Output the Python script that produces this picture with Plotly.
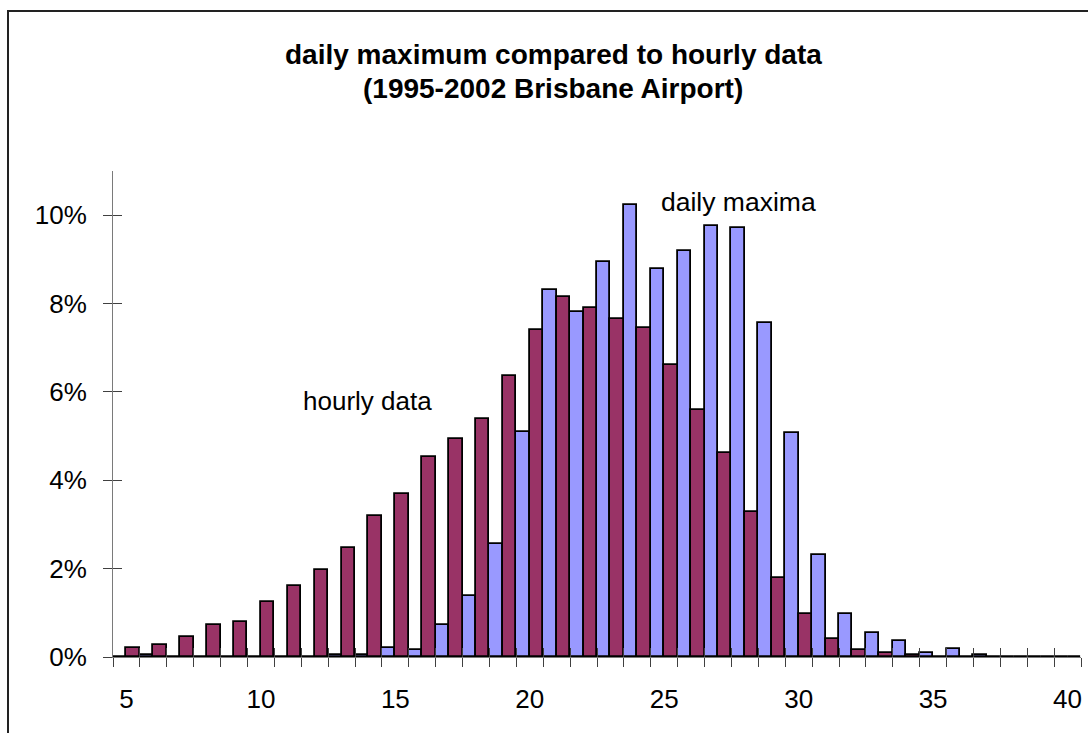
import plotly.graph_objects as go

temps = list(range(5, 41))

daily_maxima = [0, 0.04, 0, 0, 0, 0, 0, 0, 0.04, 0.04,
                0.20, 0.16, 0.73, 1.37, 2.55, 5.10, 8.30, 7.81, 8.94, 10.24,
                8.79, 9.19, 9.75, 9.71, 7.56, 5.07, 2.31, 0.97, 0.54, 0.36,
                0.08, 0.17, 0.04, 0, 0, 0]

hourly_data = [0.20, 0.27, 0.45, 0.73, 0.80, 1.24, 1.61, 1.98, 2.47, 3.19,
               3.69, 4.53, 4.93, 5.38, 6.35, 7.41, 8.14, 7.90, 7.65, 7.44,
               6.60, 5.60, 4.62, 3.29, 1.79, 0.97, 0.41, 0.16, 0.08, 0.04,
               0, 0, 0, 0, 0, 0]

x_labels = [5, 10, 15, 20, 25, 30, 35, 40]
y_ticks = [0, 2, 4, 6, 8, 10]
y_ticktext = [f"{v}%" for v in y_ticks]
boundaries = [t - 0.5 for t in temps] + [temps[-1] + 0.5]

FONT = "Liberation Sans, Arial, sans-serif"
AXIS_COLOR = "#7a7a7a"
TICK_COLOR = "#404040"

fig = go.Figure()
fig.add_trace(go.Bar(x=temps, y=daily_maxima, name="daily maxima",
                     marker=dict(color="#9999FF", line=dict(color="#000000", width=1.8))))
fig.add_trace(go.Bar(x=temps, y=hourly_data, name="hourly data",
                     marker=dict(color="#993366", line=dict(color="#000000", width=1.8))))
# dummy trace for overlay axes (inside half of crossing ticks)
fig.add_trace(go.Scatter(x=[None], y=[None], xaxis="x2", yaxis="y2",
                         showlegend=False, hoverinfo="skip"))

xr = [4.5, 40.5]
yr = [0, 11]

fig.update_layout(
    width=1088, height=733,
    margin=dict(l=113, r=7, t=171, b=76),
    paper_bgcolor="white", plot_bgcolor="white",
    barmode="group", bargap=0, bargroupgap=0,
    showlegend=False,
    font=dict(family=FONT, size=26, color="#000000"),
    xaxis=dict(range=xr, tickmode="array", tickvals=x_labels,
               ticks="", showline=True, linecolor=AXIS_COLOR, linewidth=1,
               showgrid=False, zeroline=False, ticklabelstandoff=19,
               tickfont=dict(size=26),
               minor=dict(tickmode="array", tickvals=boundaries, ticks="outside",
                          ticklen=9, tickcolor=TICK_COLOR, tickwidth=1, showgrid=False)),
    yaxis=dict(range=yr, tickmode="array", tickvals=y_ticks, ticktext=y_ticktext,
               ticks="outside", ticklen=9, tickcolor=TICK_COLOR, tickwidth=1,
               showline=True, linecolor=AXIS_COLOR, linewidth=1,
               showgrid=False, zeroline=False, ticklabelstandoff=11,
               tickfont=dict(size=26)),
    xaxis2=dict(range=xr, overlaying="x", anchor="y", side="bottom",
                tickmode="array", tickvals=boundaries, ticks="inside", ticklen=9,
                tickcolor=TICK_COLOR, tickwidth=1, showticklabels=False,
                showline=False, showgrid=False, zeroline=False),
    yaxis2=dict(range=yr, overlaying="y", anchor="x", side="left",
                tickmode="array", tickvals=y_ticks, ticks="inside", ticklen=9,
                tickcolor=TICK_COLOR, tickwidth=1, showticklabels=False,
                showline=False, showgrid=False, zeroline=False),
)

# chart border (extends beyond visible window on right/bottom)
fig.add_shape(type="rect", xref="paper", yref="paper",
              x0=(8 - 113) / 968, x1=1.2, y0=-0.4, y1=(657 - 11) / 486,
              line=dict(color="#222222", width=2), fillcolor="rgba(0,0,0,0)", layer="below")

fig.add_annotation(text="<b>daily maximum compared to hourly data</b>",
                   xref="paper", yref="paper", x=(553 - 113) / 968, y=(657 - 54) / 486,
                   showarrow=False, font=dict(size=28, family=FONT), xanchor="center", yanchor="middle")
fig.add_annotation(text="<b>(1995-2002 Brisbane Airport)</b>",
                   xref="paper", yref="paper", x=(553 - 113) / 968, y=(657 - 88) / 486,
                   showarrow=False, font=dict(size=28, family=FONT), xanchor="center", yanchor="middle")

fig.add_annotation(text="hourly data", xref="x", yref="y", x=13.95, y=5.8,
                   showarrow=False, font=dict(size=26, family=FONT), xanchor="center", yanchor="middle")
fig.add_annotation(text="daily maxima", xref="x", yref="y", x=27.78, y=10.3,
                   showarrow=False, font=dict(size=26.5, family=FONT), xanchor="center", yanchor="middle")

fig.write_html("out.html")
